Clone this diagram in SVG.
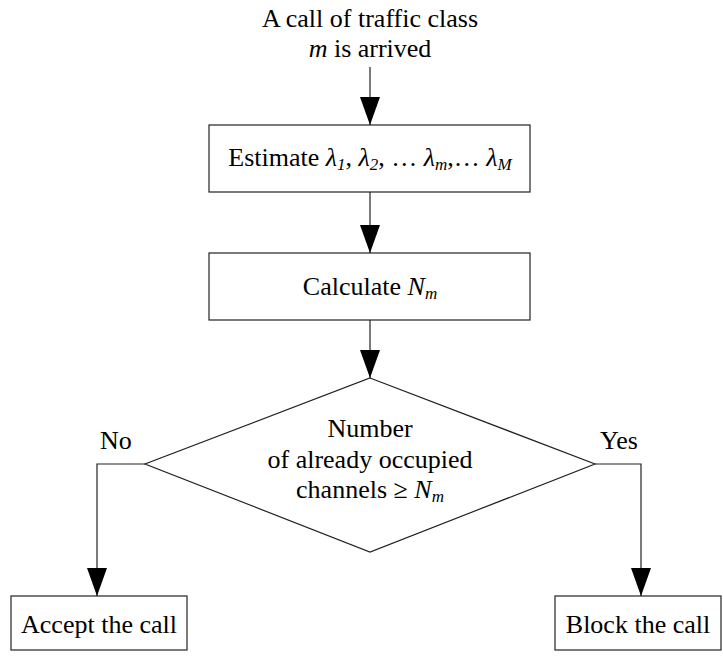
<svg xmlns="http://www.w3.org/2000/svg" width="723" height="656" viewBox="0 0 723 656">
<style>
.n{fill:#fff;stroke:#222;stroke-width:1.2}
.c{fill:none;stroke:#222;stroke-width:1.2}
text{font-family:"Liberation Serif","Times New Roman",serif;font-size:26px;fill:#000}
.i{font-style:italic}
.s{font-size:17px;font-style:italic}
</style>
<defs>
<marker id="ah" markerWidth="28" markerHeight="20" refX="28" refY="10" orient="auto" markerUnits="userSpaceOnUse" viewBox="0 0 28 20">
<path d="M0,0 L28,10 L0,20 Z" fill="#000"/>
</marker>
</defs>
<g id="start">
<text x="370" y="27" text-anchor="middle">A call of traffic class</text>
<text x="370" y="57" text-anchor="middle"><tspan class="i">m</tspan> is arrived</text>
</g>
<g id="estimate">
<rect class="n" x="209" y="125" width="321" height="67"/>
<text x="370" y="166" text-anchor="middle">Estimate <tspan class="i">λ</tspan><tspan class="s" dy="4">1</tspan><tspan dy="-4">, </tspan><tspan class="i">λ</tspan><tspan class="s" dy="4">2</tspan><tspan dy="-4">,  … </tspan><tspan class="i">λ</tspan><tspan class="s" dy="4">m</tspan><tspan dy="-4">,… </tspan><tspan class="i">λ</tspan><tspan class="s" dy="4">M</tspan></text>
</g>
<g id="calculate">
<rect class="n" x="209" y="253" width="321" height="67"/>
<text x="370" y="295" text-anchor="middle">Calculate <tspan class="i">N</tspan><tspan class="s" dy="4">m</tspan></text>
</g>
<g id="decision">
<polygon class="n" points="370,378 595,464 370,552 145,464"/>
<text x="370" y="437" text-anchor="middle">Number</text>
<text x="370" y="468" text-anchor="middle">of already occupied</text>
<text x="370" y="498" text-anchor="middle">channels ≥  <tspan class="i">N</tspan><tspan class="s" dy="4">m</tspan></text>
</g>
<g id="accept">
<rect class="n" x="11" y="596" width="176" height="54"/>
<text x="99" y="633" text-anchor="middle">Accept the call</text>
</g>
<g id="block">
<rect class="n" x="555" y="596" width="166" height="54"/>
<text x="638" y="633" text-anchor="middle">Block the call</text>
</g>
<g id="connectors">
<line class="c" x1="370" y1="67" x2="370" y2="125" marker-end="url(#ah)"/>
<line class="c" x1="370" y1="192" x2="370" y2="253" marker-end="url(#ah)"/>
<line class="c" x1="370" y1="320" x2="370" y2="378" marker-end="url(#ah)"/>
<polyline class="c" points="145,464 97,464 97,596" marker-end="url(#ah)"/>
<polyline class="c" points="595,464 641,464 641,596" marker-end="url(#ah)"/>
<text x="100" y="449">No</text>
<text x="600" y="449">Yes</text>
</g>
</svg>
